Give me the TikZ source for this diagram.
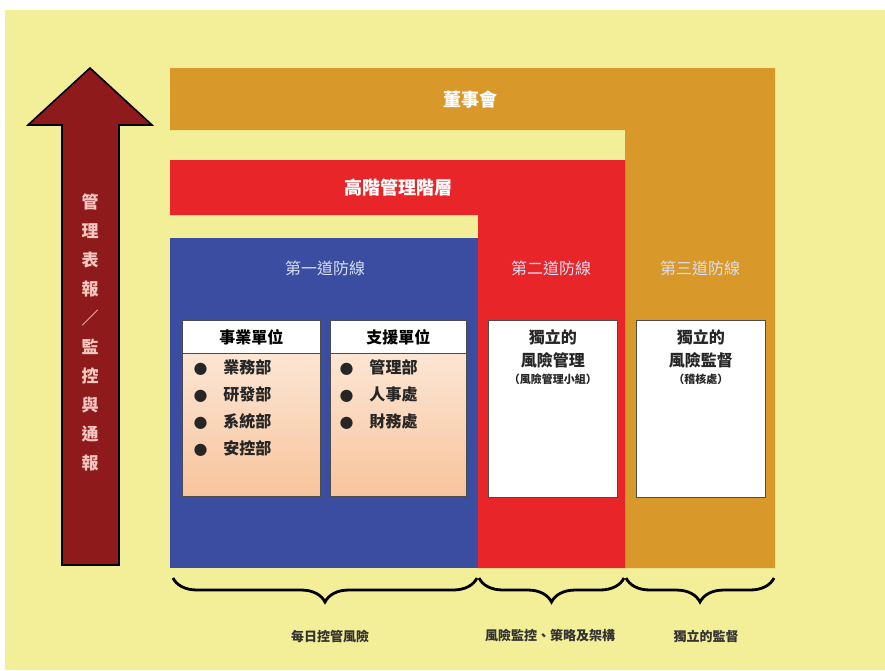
\documentclass[tikz,border=0pt]{standalone}
\usepackage{fontspec}
\setmainfont{Noto Sans CJK TC}
\newfontfamily\symfont{DejaVu Sans}
\usetikzlibrary{decorations.pathreplacing}
\definecolor{bgyellow}{HTML}{F3EE98}
\definecolor{gold}{HTML}{D8982A}
\definecolor{redband}{HTML}{E8262A}
\definecolor{blueband}{HTML}{3A4DA0}
\definecolor{arrowred}{HTML}{8E1A1C}
\definecolor{peachtop}{HTML}{FCE6D4}
\definecolor{peachbot}{HTML}{F7C49C}
\definecolor{pinktext}{HTML}{F4C8C0}
\definecolor{lightblue}{HTML}{D8DEF4}
\tikzset{
  bandtext/.style={text=white, font=\fontsize{18}{22}\selectfont\bfseries},
  linetext/.style={text=lightblue, font=\fontsize{16}{19}\selectfont},
  headbox/.style={draw=black!70, line width=0.8pt, fill=white, minimum width=138pt, minimum height=33pt, inner sep=0pt, font=\fontsize{16}{19}\selectfont\bfseries},
  bodybox/.style={draw=black!70, line width=0.8pt, top color=peachtop, bottom color=peachbot, minimum width=138pt, minimum height=144pt, inner sep=0pt},
  whitebox/.style={draw=black!70, line width=0.8pt, fill=white, minimum width=129pt, minimum height=177pt, inner sep=0pt},
  listtext/.style={font=\fontsize{16}{27}\selectfont\bfseries, align=left, text=black!85},
  boxtitle/.style={font=\fontsize{16}{23}\selectfont\bfseries, align=center, text=black!85},
  bracestyle/.style={decorate, decoration={brace, mirror, amplitude=24pt}, line width=2.8pt},
  bottomlabel/.style={font=\fontsize{13}{15}\selectfont\bfseries, text=black!80},
}
\begin{document}
\begin{tikzpicture}[x=1pt, y=-1pt]
\useasboundingbox (0,0) rectangle (885,670);
\fill[white] (0,0) rectangle (885,670);
\fill[bgyellow] (5,10) rectangle (885,670);
% gold L
\fill[gold] (170,68) -- (775,68) -- (775,568) -- (625,568) -- (625,130) -- (170,130) -- cycle;
% red L
\fill[redband] (170,160) -- (625,160) -- (625,568) -- (478,568) -- (478,215) -- (170,215) -- cycle;
% blue
\fill[blueband] (170,238) rectangle (478,568);
\node[bandtext] (board) at (470,100) {董事會};
\node[bandtext] (senior) at (398,188) {高階管理階層};
\node[linetext] (line1) at (325,268) {第一道防線};
\node[linetext] (line2) at (551,268) {第二道防線};
\node[linetext] (line3) at (700,268) {第三道防線};
% boxes in first line
\node[bodybox, anchor=north west] (bizbody) at (182,352) {};
\node[headbox, anchor=north west] (bizhead) at (182,320) {事業單位};
\node[bodybox, minimum width=136pt, anchor=north west] (supbody) at (330,352) {};
\node[headbox, minimum width=136pt, anchor=north west] (suphead) at (330,320) {支援單位};
\node[listtext, anchor=north west] (bizlist) at (190,356) {{\symfont ●}\quad 業務部\\{\symfont ●}\quad 研發部\\{\symfont ●}\quad 系統部\\{\symfont ●}\quad 安控部};
\node[listtext, anchor=north west] (suplist) at (336,356) {{\symfont ●}\quad 管理部\\{\symfont ●}\quad 人事處\\{\symfont ●}\quad 財務處};
% white boxes
\node[whitebox, anchor=north west] (rmbox) at (488,320) {};
\node[whitebox, anchor=north west] (rsbox) at (636,320) {};
\node[boxtitle, anchor=north] (rmtitle) at (rmbox.north) [yshift=-6pt] {獨立的\\風險管理\\[-6pt]{\fontsize{11}{13}\selectfont （風險管理小組）}};
\node[boxtitle, anchor=north] (rstitle) at (rsbox.north) [yshift=-6pt] {獨立的\\風險監督\\[-6pt]{\fontsize{11}{13}\selectfont （稽核處）}};
% arrow
\draw[fill=arrowred, line width=1.6pt, line join=miter] (62,565) -- (62,125) -- (28,125) -- (90,68) -- (152,125) -- (119,125) -- (119,565) -- cycle;
\node[text=pinktext, font=\fontsize{17}{29}\selectfont\bfseries, align=center] (arrowtext) at (90,332) {管\\理\\表\\報\\／\\監\\控\\與\\通\\報};
% braces
\coordinate (b1l) at (173,578);
\coordinate (b1r) at (477,578);
\coordinate (b2l) at (479,578);
\coordinate (b2r) at (624,578);
\coordinate (b3l) at (626,578);
\coordinate (b3r) at (774,578);
\draw[bracestyle] (b1l) -- (b1r);
\draw[bracestyle] (b2l) -- (b2r);
\draw[bracestyle] (b3l) -- (b3r);
\node[bottomlabel] (lab1) at (330,636) {每日控管風險};
\node[bottomlabel] (lab2) at (550,636) {風險監控、策略及架構};
\node[bottomlabel] (lab3) at (706,636) {獨立的監督};
\end{tikzpicture}
\end{document}
